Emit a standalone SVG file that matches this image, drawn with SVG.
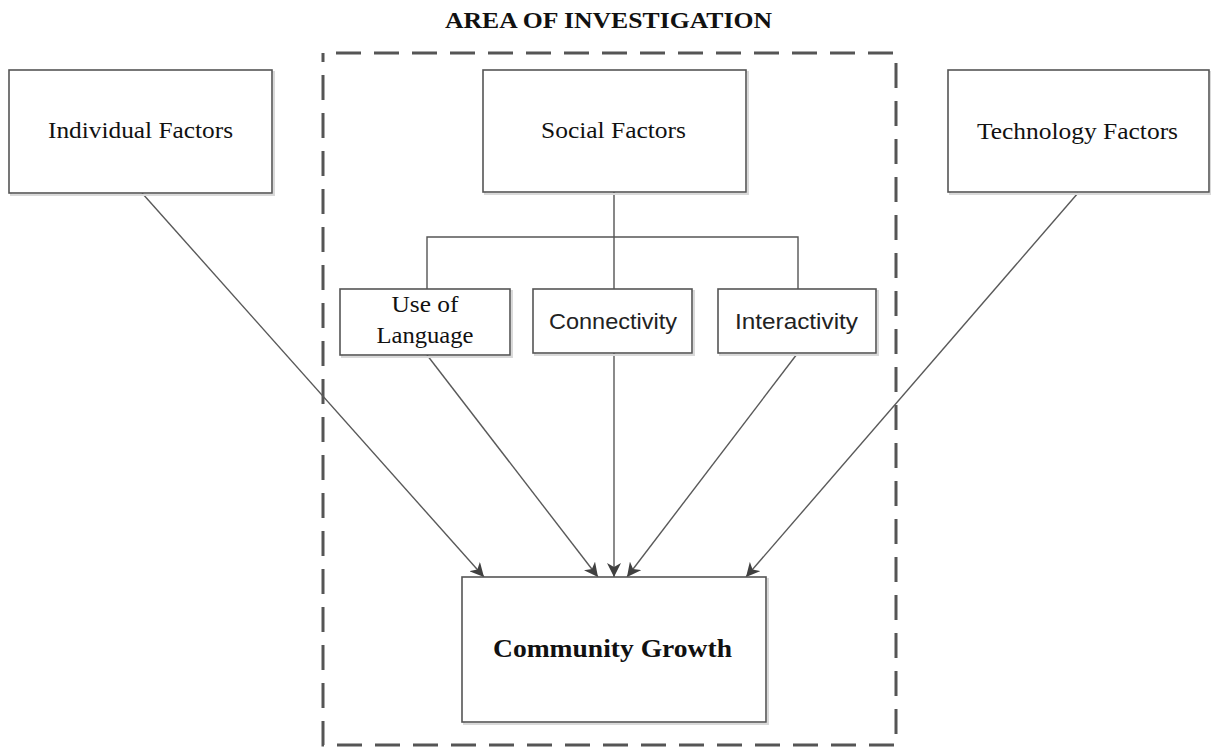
<svg xmlns="http://www.w3.org/2000/svg" width="1211" height="749" viewBox="0 0 1211 749">
  <defs>
    <marker id="arrow" markerUnits="userSpaceOnUse" markerWidth="14" markerHeight="14" refX="14" refY="7" orient="auto">
      <path d="M0,0 L14,7 L0,14 L4,7 Z" fill="#404040"/>
    </marker>
  </defs>
  <style>
    .box { fill: #ffffff; stroke: #555555; stroke-width: 1.6; }
    .shadow { fill: none; stroke: #d9d9d9; stroke-width: 2; }
    .serif { font-family: "Liberation Serif", "Times New Roman", serif; fill: #111111; }
    .sans { font-family: "Liberation Sans", Arial, sans-serif; fill: #222222; }
    .conn { stroke: #555555; stroke-width: 1.4; fill: none; }
    .arrow { stroke: #595959; stroke-width: 1.4; fill: none; marker-end: url(#arrow); }
    .area { fill: none; stroke: #555555; stroke-width: 3; stroke-dasharray: 25 13; stroke-dashoffset: 25; }
  </style>
  <rect width="1211" height="749" fill="#ffffff"/>

  <g id="area">
    <text class="serif" x="608.5" y="28" font-size="24" font-weight="bold" text-anchor="middle" textLength="327" lengthAdjust="spacingAndGlyphs">AREA OF INVESTIGATION</text>
    <rect class="area" x="323" y="53" width="573" height="692"/>
  </g>

  <g id="connectors">
    <path class="conn" d="M614,192 V289 M427,289 V237 H798 V289"/>
    <line class="arrow" x1="142" y1="193" x2="484" y2="577"/>
    <line class="arrow" x1="427" y1="355" x2="598" y2="577"/>
    <line class="arrow" x1="614" y1="353" x2="614" y2="577"/>
    <line class="arrow" x1="797" y1="354" x2="627" y2="577"/>
    <line class="arrow" x1="1078" y1="193" x2="746" y2="577"/>
  </g>

  <g id="individual-factors">
    <rect class="shadow" x="11" y="72" width="263" height="123"/>
    <rect class="box" x="9" y="70" width="263" height="123"/>
    <text class="serif" x="140.5" y="138" font-size="24" text-anchor="middle" textLength="185" lengthAdjust="spacingAndGlyphs">Individual Factors</text>
  </g>

  <g id="social-factors">
    <rect class="shadow" x="485" y="72" width="263" height="122"/>
    <rect class="box" x="483" y="70" width="263" height="122"/>
    <text class="serif" x="613.5" y="138" font-size="24" text-anchor="middle" textLength="145" lengthAdjust="spacingAndGlyphs">Social Factors</text>
  </g>

  <g id="technology-factors">
    <rect class="shadow" x="950" y="72" width="261" height="122"/>
    <rect class="box" x="948" y="70" width="261" height="122"/>
    <text class="serif" x="1077.5" y="139" font-size="24" text-anchor="middle" textLength="201" lengthAdjust="spacingAndGlyphs">Technology Factors</text>
  </g>

  <g id="use-of-language">
    <rect class="shadow" x="342" y="291" width="170" height="66"/>
    <rect class="box" x="340" y="289" width="170" height="66"/>
    <text class="serif" x="425" y="312" font-size="24" text-anchor="middle" textLength="67" lengthAdjust="spacingAndGlyphs">Use of</text>
    <text class="serif" x="425" y="343" font-size="24" text-anchor="middle" textLength="97" lengthAdjust="spacingAndGlyphs">Language</text>
  </g>

  <g id="connectivity">
    <rect class="shadow" x="535" y="291" width="159" height="64"/>
    <rect class="box" x="533" y="289" width="159" height="64"/>
    <text class="sans" x="613" y="329" font-size="22" text-anchor="middle" textLength="128" lengthAdjust="spacingAndGlyphs">Connectivity</text>
  </g>

  <g id="interactivity">
    <rect class="shadow" x="720" y="291" width="158" height="64"/>
    <rect class="box" x="718" y="289" width="158" height="64"/>
    <text class="sans" x="796.5" y="329" font-size="22" text-anchor="middle" textLength="123" lengthAdjust="spacingAndGlyphs">Interactivity</text>
  </g>

  <g id="community-growth">
    <rect class="shadow" x="464" y="579" width="304" height="145"/>
    <rect class="box" x="462" y="577" width="304" height="145"/>
    <text class="serif" x="612.5" y="657" font-size="26" font-weight="bold" text-anchor="middle" textLength="239" lengthAdjust="spacingAndGlyphs">Community Growth</text>
  </g>
</svg>
